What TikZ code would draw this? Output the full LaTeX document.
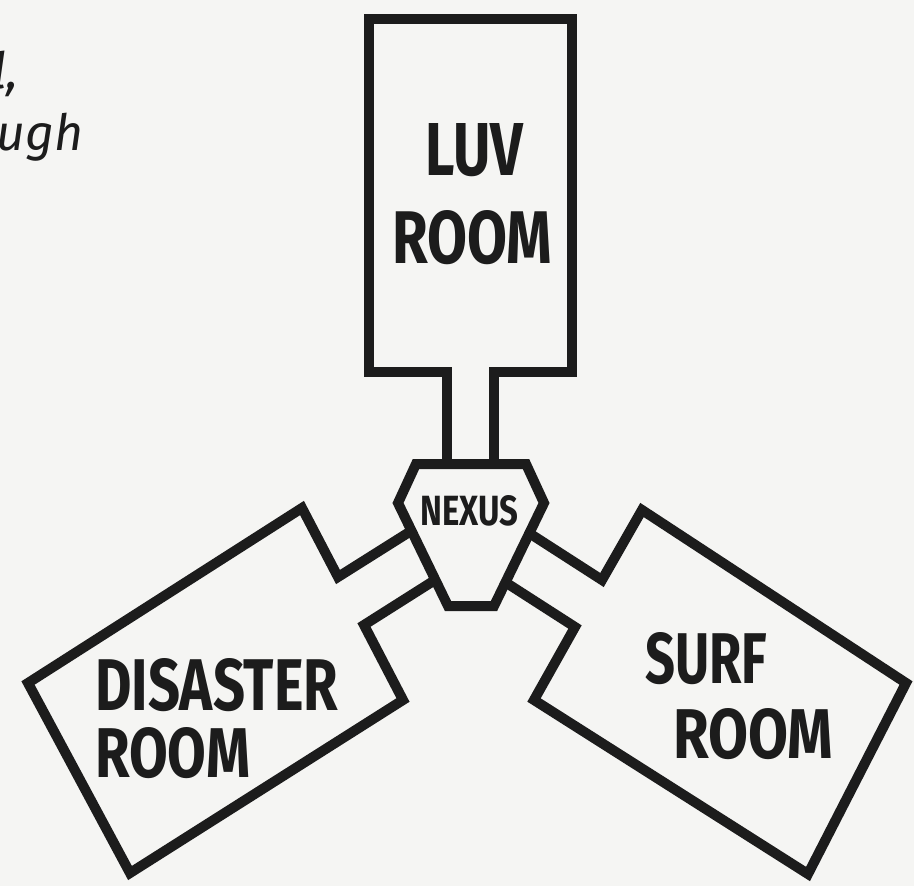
\documentclass[tikz,border=0pt]{standalone}
\usepackage{fontspec}
\usepackage{graphicx}
\newfontfamily\roomfont{Fira Sans}
\newfontfamily\notefont{Fira Sans}
\definecolor{paper}{HTML}{F5F5F3}
\definecolor{ink}{HTML}{1C1C1C}
\newcommand\fitword[3]{\resizebox{#1pt}{#2pt}{\roomfont\bfseries #3}}
\begin{document}
\begin{tikzpicture}[x=1pt,y=-1pt,
  wall/.style={draw=ink,line width=10pt,line join=miter},
  word/.style={inner sep=0pt,anchor=base west,text=ink},
  note/.style={inner sep=0pt,anchor=base east,text=ink,font=\notefont\itshape\fontsize{50}{50}\selectfont}]
\fill[paper] (0,0) rectangle (914,886);
\useasboundingbox (0,0) rectangle (914,886);

% cut-off text at top left
\node[note] (noteA) at (19,88) {l,};
\node[note] (noteB) at (84,150) {ugh};

% LUV room with its corridor
\draw[wall] (447,464) -- (447,372) -- (369,372) -- (369,19) -- (572,19) -- (572,372) -- (494,372) -- (494,464);
% nexus
\draw[wall] (416,464) -- (526,464) -- (544,503) -- (494,606) -- (448,606) -- (398,503) -- cycle;
% disaster room with its corridor
\draw[wall] (411,531) -- (338,577) -- (302,508) -- (28,683) -- (130,873) -- (403,700) -- (364,625) -- (435,580);
% surf room with its corridor
\draw[wall] (529,533) -- (602,580) -- (642,510) -- (906,683) -- (808,874) -- (534,700) -- (575,627) -- (505,582);

% labels
\node[word] (luv1) at (425,175) {\fitword{98}{52}{LUV}};
\node[word] (luv2) at (392,263) {\fitword{160}{53}{ROOM}};
\node[word] (nexus) at (420,525) {\fitword{98}{30}{NEXUS}};
\node[word] (dis1) at (95,710) {\fitword{243}{52}{DISASTER}};
\node[word] (dis2) at (95,777) {\fitword{155}{50}{ROOM}};
\node[word] (surf1) at (645,683) {\fitword{122}{51}{SURF}};
\node[word] (surf2) at (673,758) {\fitword{160}{50}{ROOM}};
\end{tikzpicture}
\end{document}
